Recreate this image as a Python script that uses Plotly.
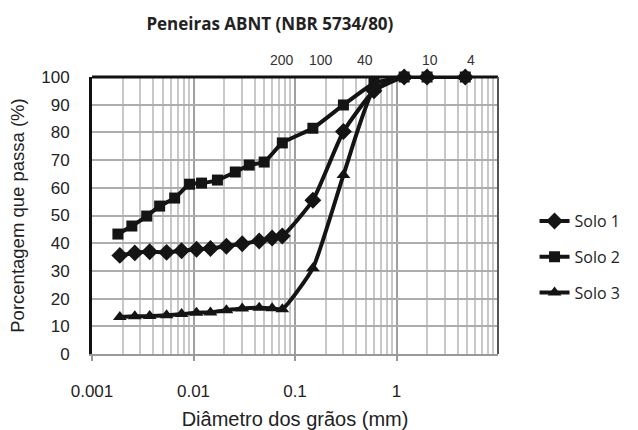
import math
import plotly.graph_objects as go

# ---- data ----
solo1_x = [0.00188, 0.00264, 0.0037, 0.00543, 0.00763, 0.0107, 0.0147, 0.0211, 0.0302, 0.0444, 0.0595, 0.075,
           0.15, 0.3, 0.6, 1.19, 2.0, 4.76]
solo1_y = [35.6, 36.5, 36.9, 36.7, 37.3, 37.8, 38.1, 38.9, 39.8, 40.8, 41.9, 42.6,
           55.5, 80.3, 95.0, 100, 100, 100]

solo2_x = [0.0018, 0.00247, 0.00346, 0.00464, 0.00652, 0.00914, 0.012, 0.0172, 0.0258, 0.0354, 0.0497, 0.075,
           0.15, 0.3, 0.6, 1.19, 2.0, 4.76]
solo2_y = [43.3, 46.2, 49.8, 53.4, 56.3, 61.3, 61.7, 62.8, 65.7, 68.2, 69.3, 76.2,
           81.5, 89.9, 97.7, 100, 100, 100]

solo3_x = solo1_x
solo3_y = [13.4, 13.6, 13.7, 14.0, 14.4, 14.9, 15.0, 15.8, 16.4, 16.7, 16.5, 16.2,
           31.0, 64.6, 95.5, 100, 100, 100]

series_names = ["Solo 1", "Solo 2", "Solo 3"]
series_symbols = ["diamond", "square", "triangle-up"]

x_tickvals = [0.001, 0.01, 0.1, 1]
x_ticktext = ["0.001", "0.01", "0.1", "1"]
y_tickvals = [0, 10, 20, 30, 40, 50, 60, 70, 80, 90, 100]

sieve_labels = ["200", "100", "40", "10", "4"]
sieve_label_x = [0.0747, 0.18, 0.485, 2.15, 5.43]

fig = go.Figure()
xs = [solo1_x, solo2_x, solo3_x]
ys = [solo1_y, solo2_y, solo3_y]
msizes = [13, 11, 12]
for i in range(3):
    fig.add_trace(go.Scatter(
        x=xs[i], y=ys[i], name=series_names[i], mode="lines+markers",
        line=dict(color="#141414", width=4, shape="spline", smoothing=0.5),
        marker=dict(symbol=series_symbols[i], size=msizes[i], color="#141414"),
        cliponaxis=False, legendgroup=series_names[i],
    ))

for lab, xv in zip(sieve_labels, sieve_label_x):
    fig.add_annotation(x=math.log10(xv), y=1, xref="x", yref="paper", yanchor="bottom",
                       yshift=7, text=lab, showarrow=False,
                       font=dict(family="Liberation Sans, Arial", size=14, color="#333"))

# borders
fig.add_shape(type="line", xref="paper", yref="paper", x0=0, x1=1, y0=1, y1=1,
              line=dict(color="#111", width=3), layer="above")
fig.add_shape(type="line", xref="paper", yref="paper", x0=1, x1=1, y0=0, y1=1,
              line=dict(color="#555", width=2), layer="above")

fig.update_layout(
    width=638, height=430,
    margin=dict(l=92, r=138, t=77, b=76),
    paper_bgcolor="white", plot_bgcolor="white",
    title=dict(text="<b>Peneiras ABNT (NBR 5734/80)</b>", x=0.423, xref="container",
               xanchor="center", y=0.945, yanchor="middle",
               font=dict(family="Open Sans", size=17, color="#222")),
    showlegend=True,
    legend=dict(x=1.09, y=0.35, xanchor="left", yanchor="middle",
                traceorder="grouped", tracegroupgap=12,
                font=dict(family="Open Sans", size=16, color="#222"),
                bgcolor="rgba(0,0,0,0)"),
    font=dict(family="Liberation Sans, Arial", color="#222"),
)

fig.update_xaxes(
    type="log", range=[-3, 1], automargin=False,
    tickvals=x_tickvals, ticktext=x_ticktext,
    tickfont=dict(size=17, color="#222"),
    showgrid=True, gridcolor="#a0a0a0", gridwidth=2,
    minor=dict(dtick="D1", showgrid=True, gridcolor="#c8c8c8", gridwidth=2, ticks=""),
    showline=True, linecolor="#999", linewidth=2,
    ticks="outside", ticklen=5, tickcolor="#999", tickwidth=2,
    ticklabelstandoff=16,
    title=dict(text="Diâmetro dos grãos (mm)", font=dict(size=20, color="#222"), standoff=12),
    zeroline=False,
)
fig.update_yaxes(
    range=[0, 100], tickvals=y_tickvals, automargin=False,
    tickfont=dict(size=17, color="#222"),
    showgrid=True, gridcolor="#adadad", gridwidth=2,
    showline=True, linecolor="#111", linewidth=3,
    ticks="", ticklabelstandoff=16,
    title=dict(text="Porcentagem que passa (%)", font=dict(size=18.5, color="#222"), standoff=12),
    zeroline=False,
)

fig.write_html("out.html")
